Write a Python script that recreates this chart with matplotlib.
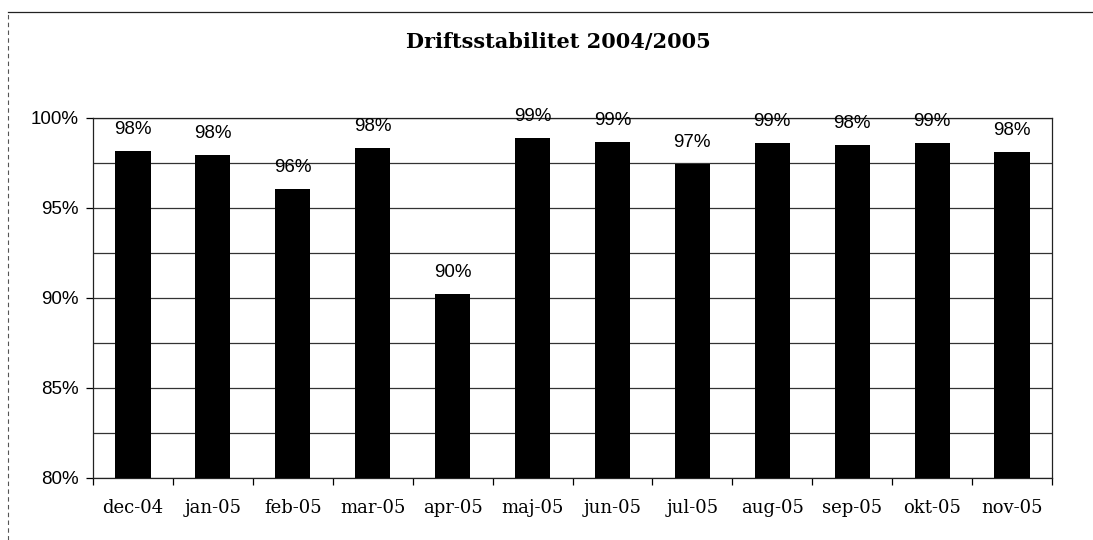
"""Driftsstabilitet 2004/2005 - monthly uptime bar chart."""
import numpy as np
import matplotlib
matplotlib.use("Agg")
import matplotlib.pyplot as plt
from matplotlib.ticker import FixedLocator, FuncFormatter

months = ["dec-04", "jan-05", "feb-05", "mar-05", "apr-05", "maj-05",
          "jun-05", "jul-05", "aug-05", "sep-05", "okt-05", "nov-05"]
stability = [98.16, 97.94, 96.04, 98.35, 90.25, 98.87,
             98.68, 97.45, 98.63, 98.48, 98.63, 98.09]
yticks = [80, 85, 90, 95, 100]

W, H = 1093, 540
fig = plt.figure(figsize=(W / 100, H / 100), dpi=100)
ax = fig.add_axes([93 / W, 1 - 478 / H, (1052 - 93) / W, (478 - 118) / H])

x = np.arange(len(months))
ax.bar(x, [v - 80 for v in stability], bottom=80, width=0.44, color="black", zorder=3)
for xi, v in zip(x, stability):
    ax.text(xi, v + 0.72, f"{v:.0f}%", ha="center", va="bottom",
            fontsize=13.5, family="Liberation Sans", zorder=4)

ax.set_xlim(-0.5, len(months) - 0.5)
ax.set_ylim(80, 100)
ax.set_yticks(yticks)
ax.yaxis.set_major_formatter(FuncFormatter(lambda v, p: f"{v:.0f}%"))
ax.yaxis.set_minor_locator(FixedLocator([82.5, 87.5, 92.5, 97.5]))
ax.grid(axis="y", which="both", color="#333333", lw=0.9, zorder=0)
ax.set_xticks(x)
ax.set_xticklabels(months, family="DejaVu Serif", fontsize=13)
ax.set_xticks(np.arange(len(months) + 1) - 0.5, minor=True)
ax.tick_params(axis="x", which="major", length=0, pad=15)
ax.tick_params(axis="x", which="minor", length=5, width=0.9, direction="out")
ax.tick_params(axis="y", which="major", length=5, width=0.9, pad=5)
ax.tick_params(axis="y", which="minor", length=0)
for lbl in ax.get_yticklabels():
    lbl.set_family("Liberation Sans")
    lbl.set_fontsize(13.5)
for s in ax.spines.values():
    s.set_linewidth(0.9)
    s.set_color("#222222")

fig.text(558 / W, 1 - 42 / H, "Driftsstabilitet 2004/2005", ha="center", va="center",
         family="DejaVu Serif", fontweight="bold", fontsize=15)

# outer chart-area border (top and left edges visible)
fig.add_artist(plt.Line2D([8 / W, 1], [1 - 12 / H, 1 - 12 / H], color="#222222", lw=0.9))
fig.add_artist(plt.Line2D([8 / W, 8 / W], [0, 1 - 12 / H], color="#555555", lw=0.8, ls=(0, (4, 3))))

fig.savefig("out.png", dpi=100)
